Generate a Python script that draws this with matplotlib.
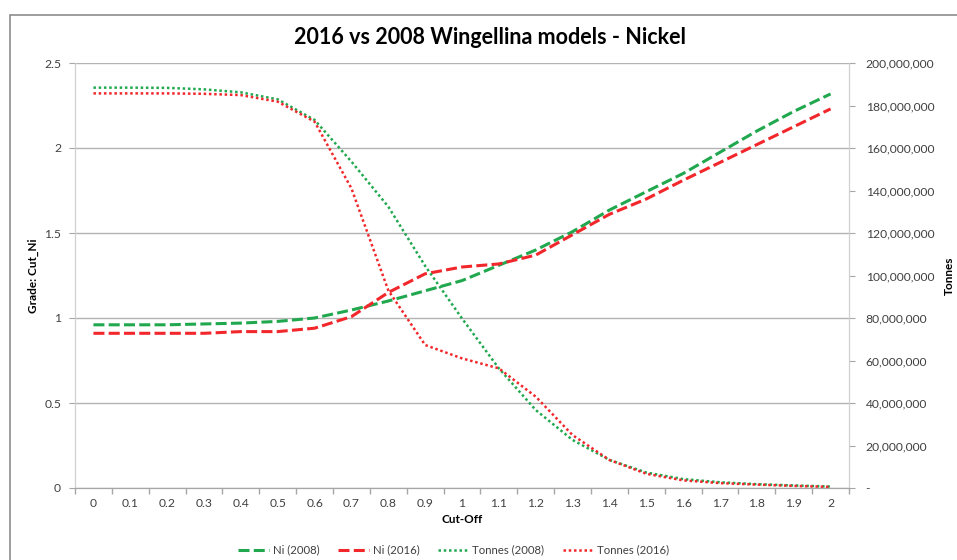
import matplotlib.pyplot as plt
from matplotlib.patches import Rectangle
from matplotlib.lines import Line2D
from matplotlib.ticker import FuncFormatter, MultipleLocator, FixedLocator

# Data
cutoff = [0.0, 0.1, 0.2, 0.3, 0.4, 0.5, 0.6, 0.7, 0.8, 0.9, 1.0,
          1.1, 1.2, 1.3, 1.4, 1.5, 1.6, 1.7, 1.8, 1.9, 2.0]
cutoff_labels = ["0", "0.1", "0.2", "0.3", "0.4", "0.5", "0.6", "0.7", "0.8", "0.9", "1",
                 "1.1", "1.2", "1.3", "1.4", "1.5", "1.6", "1.7", "1.8", "1.9", "2"]

ni_2008 = [0.96, 0.96, 0.96, 0.965, 0.97, 0.98, 1.0, 1.047, 1.10, 1.16, 1.22,
           1.31, 1.40, 1.508, 1.635, 1.743, 1.85, 1.975, 2.10, 2.215, 2.318]
ni_2016 = [0.91, 0.91, 0.91, 0.91, 0.92, 0.92, 0.94, 1.008, 1.15, 1.26, 1.30,
           1.318, 1.37, 1.49, 1.61, 1.70, 1.81, 1.915, 2.02, 2.125, 2.23]

# tonnes, millions
tonnes_2008 = [188.4, 188.4, 188.3, 187.6, 186.2, 182.9, 173.2, 153.6, 132.4, 104.5, 79.8,
               56.3, 36.7, 22.6, 13.2, 7.3, 4.2, 2.7, 1.8, 1.2, 0.7]
tonnes_2016 = [185.7, 185.7, 185.7, 185.5, 184.9, 181.8, 172.4, 141.0, 93.0, 67.3, 61.0,
               56.3, 43.0, 24.9, 13.2, 6.7, 3.6, 2.3, 1.6, 1.0, 0.5]

GREEN = "#21A84F"
RED = "#F2272C"
TEXT = "#404040"
FONT = ["Lato", "DejaVu Sans"]

plt.rcParams["font.family"] = FONT

W, H = 957, 560
fig = plt.figure(figsize=(W / 100, H / 100), dpi=100)
ax = fig.add_axes([75 / W, 1 - 488 / H, (849 - 75) / W, (488 - 63) / H])
ax2 = ax.twinx()

# chart border (runs off the right and bottom edges like the source)
fig.add_artist(Rectangle((10 / W, -0.1), 1.2, (H - 15) / H + 0.1, transform=fig.transFigure,
                         fill=False, edgecolor="#8c8c8c", linewidth=1.2))

dash = (3.6, 1.4)
dot = (1.0, 1.1)
ax.plot(cutoff, ni_2008, color=GREEN, lw=2.2, dashes=dash, zorder=3)
ax.plot(cutoff, ni_2016, color=RED, lw=2.2, dashes=dash, zorder=3)
ax2.plot(cutoff, [v * 1e6 for v in tonnes_2008], color=GREEN, lw=1.8, dashes=dot)
ax2.plot(cutoff, [v * 1e6 for v in tonnes_2016], color=RED, lw=1.8, dashes=dot)

ax.set_xlim(-0.05, 2.05)
ax.set_ylim(0, 2.5)
ax2.set_ylim(0, 200e6)

ax.yaxis.set_major_locator(MultipleLocator(0.5))
ax.yaxis.set_major_formatter(FuncFormatter(lambda v, p: f"{v:g}"))
ax2.yaxis.set_major_locator(MultipleLocator(20e6))
ax2.yaxis.set_major_formatter(FuncFormatter(lambda v, p: "-" if v == 0 else f"{v:,.0f}"))

ax.set_xticks(cutoff)
ax.set_xticklabels(cutoff_labels)
ax.xaxis.set_minor_locator(FixedLocator([-0.05 + 0.1 * i for i in range(22)]))
ax.tick_params(axis="x", which="major", length=0, pad=7, labelsize=8.7, labelcolor=TEXT)
ax.tick_params(axis="x", which="minor", length=4, color="#a6a6a6", width=1)
ax.tick_params(axis="y", length=4, color="#a6a6a6", pad=6, labelsize=8.7, labelcolor=TEXT)
ax2.tick_params(axis="y", length=4, color="#a6a6a6", pad=8, labelsize=8.7, labelcolor=TEXT)

ax.grid(axis="y", color="#b3b3b3", lw=1)
ax.set_axisbelow(True)
for a in (ax, ax2):
    a.spines["top"].set_visible(False)
    a.spines["left"].set_color("#d0d0d0")
    a.spines["right"].set_color("#d0d0d0")
    a.spines["bottom"].set_color("#a6a6a6")

ax.set_xlabel("Cut-Off", fontsize=8.5, fontweight="bold", labelpad=4)
ax.set_ylabel("Grade: Cut_Ni", fontsize=8.5, fontweight="bold", labelpad=4)
ax2.set_ylabel("Tonnes", fontsize=8.5, fontweight="bold", labelpad=7)

fig.text(490 / W, 1 - 38 / H, "2016 vs 2008 Wingellina models - Nickel",
         ha="center", va="center", fontsize=15.5, fontweight="bold", color="#000000")

handles = [
    Line2D([], [], color=GREEN, lw=2.2, dashes=dash),
    Line2D([], [], color=RED, lw=2.2, dashes=dash),
    Line2D([], [], color=GREEN, lw=1.8, dashes=dot),
    Line2D([], [], color=RED, lw=1.8, dashes=dot),
]
fig.legend(handles, ["Ni (2008)", "Ni (2016)", "Tonnes (2008)", "Tonnes (2016)"],
           loc="center", bbox_to_anchor=(454 / W, 1 - 550 / H), ncol=4, frameon=False,
           fontsize=8.2, handlelength=2.7, handletextpad=0.35, columnspacing=1.6,
           labelcolor=TEXT)

fig.savefig("out.png", dpi=100)
